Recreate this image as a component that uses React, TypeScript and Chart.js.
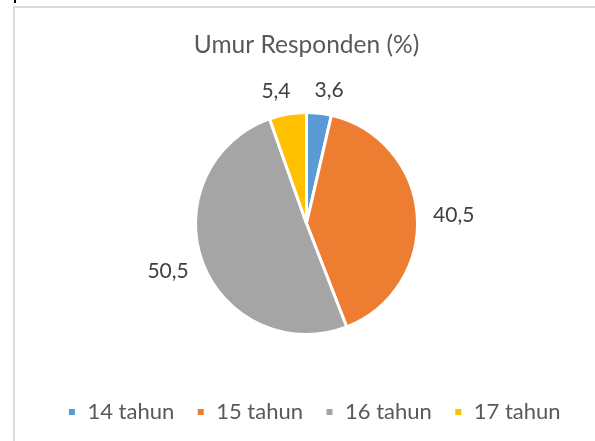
import React, { useEffect, useRef } from "react";
import { Chart, registerables } from "chart.js";

Chart.register(...registerables);

const titleText = "Umur Responden (%)";
const categories = ["14 tahun", "15 tahun", "16 tahun", "17 tahun"];
const values = [3.6, 40.5, 50.5, 5.4];
const valueLabels = ["3,6", "40,5", "50,5", "5,4"];
const colors = ["#5B9BD5", "#ED7D31", "#A5A5A5", "#FFC000"];

const FONT = "Lato, 'Open Sans', sans-serif";

const outsideLabels = {
  id: "outsideLabels",
  afterDatasetsDraw(chart: any) {
    const ctx = chart.ctx;
    const meta = chart.getDatasetMeta(0);
    ctx.save();
    ctx.font = `21px ${FONT}`;
    ctx.fillStyle = "#404040";
    ctx.textAlign = "center";
    ctx.textBaseline = "middle";
    const boxes: any[] = meta.data.map((arc: any, i: number) => {
      const p = arc.getProps(["x", "y", "startAngle", "endAngle", "outerRadius"], true);
      const mid = (p.startAngle + p.endAngle) / 2;
      const dx = Math.cos(mid);
      const dy = Math.sin(mid);
      const text = valueLabels[i];
      const halfW = ctx.measureText(text).width / 2 + 1;
      const halfH = 9;
      const r = p.outerRadius + 15;
      return { text, x: p.x + dx * (r + halfW), y: p.y + dy * (r + halfH), halfW, halfH };
    });
    // push apart labels that sit too close to each other horizontally
    const minGap = 22;
    for (let a = 0; a < boxes.length; a++) {
      for (let b = a + 1; b < boxes.length; b++) {
        const A = boxes[a];
        const B = boxes[b];
        if (Math.abs(A.y - B.y) > A.halfH + B.halfH) continue;
        const left = A.x < B.x ? A : B;
        const right = A.x < B.x ? B : A;
        const gap = right.x - right.halfW - (left.x + left.halfW);
        if (gap < minGap) {
          const d = (minGap - gap) / 2;
          left.x -= d;
          right.x += d;
        }
      }
    }
    boxes.forEach((bx) => ctx.fillText(bx.text, bx.x, bx.y + 1));
    ctx.restore();
  },
};

const legendShift = {
  id: "legendShift",
  afterLayout(chart: any) {
    if (chart.legend) {
      chart.legend.left += 7.5;
      chart.legend.right += 7.5;
    }
  },
};

export default function App() {
  const ref = useRef<HTMLCanvasElement | null>(null);
  useEffect(() => {
    if (!ref.current) return;
    const chart = new Chart(ref.current, {
      type: "pie",
      data: {
        labels: categories,
        datasets: [
          {
            data: values,
            backgroundColor: colors,
            borderColor: "#ffffff",
            borderWidth: 3,
            radius: 111,
          },
        ],
      },
      options: {
        animation: false,
        responsive: false,
        maintainAspectRatio: false,
        layout: { padding: { left: 18, right: 0, top: 0, bottom: 8 } },
        plugins: {
          title: {
            display: true,
            text: titleText,
            color: "#595959",
            font: { family: FONT, size: 24.5, weight: "normal" },
            padding: { top: 30, bottom: 8.6 },
          },
          legend: {
            display: true,
            position: "bottom",
            labels: {
              boxWidth: 9,
              boxHeight: 9,
              padding: 22,
              color: "#595959",
              font: { family: FONT, size: 22 },
            },
          },
          tooltip: { enabled: false },
        },
      },
      plugins: [outsideLabels, legendShift],
    });
    return () => chart.destroy();
  }, []);
  return (
    <div style={{ position: "fixed", left: 0, top: 0, width: 595, height: 441, background: "#ffffff", overflow: "hidden" }}>
      <div style={{ position: "absolute", left: 14, top: 0, width: 2, height: 3, background: "#000000" }} />
      <div
        style={{
          position: "absolute",
          left: 13,
          top: 6,
          right: -2,
          bottom: -2,
          borderLeft: "2px solid #d9d9d9",
          borderTop: "2px solid #d9d9d9",
        }}
      />
      <canvas ref={ref} width={595} height={441} style={{ position: "absolute", left: 0, top: 0, width: 595, height: 441 }} />
    </div>
  );
}
